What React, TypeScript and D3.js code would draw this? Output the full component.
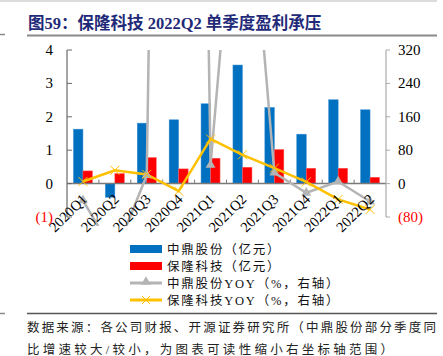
import React from 'react';
import * as d3 from 'd3';

const categories = ['2020Q1', '2020Q2', '2020Q3', '2020Q4', '2021Q1', '2021Q2', '2021Q3', '2021Q4', '2022Q1', '2022Q2'];
const zhongding = [1.63, -0.41, 1.81, 1.91, 2.39, 3.55, 2.28, 1.48, 2.51, 2.21];
const baolong = [0.38, 0.3, 0.78, 0.44, 0.76, 0.49, 1.02, 0.46, 0.46, 0.19];
const zhongdingYoy = [-40, -170, 20, 5000, 45, 930, 26, -22, 5, -43];
const baolongYoy = [5, 32, 22, -18, 107, 69, 37, 4, -38, -62];
const leftTicks = [-1, 0, 1, 2, 3, 4];
const rightTicks = [-80, 0, 80, 160, 240, 320];
const legendLabels = ['中鼎股份（亿元）', '保隆科技（亿元）', '中鼎股份YOY（%，右轴）', '保隆科技YOY（%，右轴）'];

const W = 443;
const H = 356;
const plot = { left: 67, right: 386, top: 50, bottom: 217 };
const BLUE = '#0070C0';
const RED = '#FF0000';
const GRAY = '#B4B4B4';
const YELLOW = '#FFC000';
const SERIF = '"Liberation Serif", "Times New Roman", "Noto Sans CJK SC", serif';
const CJK = '"Liberation Serif", "Noto Sans CJK SC", serif';

function fmt(v: number) {
  return v < 0 ? `(${Math.abs(v)})` : `${v}`;
}

export default function App() {
  const x = d3.scaleBand<string>().domain(categories).range([plot.left, plot.right]).padding(0);
  const yL = d3.scaleLinear().domain([-1, 4]).range([plot.bottom, plot.top]);
  const yR = d3.scaleLinear().domain([-80, 320]).range([plot.bottom, plot.top]);
  const bw = 9.5;
  const cx = (c: string) => (x(c) as number) + x.bandwidth() / 2;

  const line = d3
    .line<number>()
    .x((_, i) => cx(categories[i]))
    .y((d) => yR(d));

  const tri = d3.symbol(d3.symbolTriangle, 42)();

  return (
    <svg width={W} height={H} style={{ position: 'absolute', left: 0, top: 0, background: '#fff' }}>
      <defs>
        <clipPath id="plotclip">
          <rect x={0} y={plot.top} width={W} height={226 - plot.top} />
        </clipPath>
      </defs>
      {/* header */}
      <line x1={0} x2={437} y1={1} y2={1} stroke="#d0d0d0" strokeWidth={1.5} />
      <text x={28} y={29} fontFamily={CJK} fontWeight="bold" fontSize={16.5} fill="#1F2A78">
        图59：保隆科技 2022Q2 单季度盈利承压
      </text>
      <line x1={27} x2={437} y1={35.5} y2={35.5} stroke="#8a8a8a" strokeWidth={2} />
      <line x1={0} x2={5} y1={34.5} y2={34.5} stroke="#8a8a8a" strokeWidth={1.5} />

      {/* bars */}
      {categories.map((c, i) => (
        <g key={c}>
          <rect
            x={cx(c) - bw}
            y={Math.min(yL(zhongding[i]), yL(0))}
            width={bw}
            height={Math.abs(yL(zhongding[i]) - yL(0))}
            fill={BLUE}
            stroke="#3d8fd6"
            strokeWidth={0.5}
          />
          <rect
            x={cx(c)}
            y={Math.min(yL(baolong[i]), yL(0))}
            width={bw}
            height={Math.abs(yL(baolong[i]) - yL(0))}
            fill={RED}
            stroke="#ff6060"
            strokeWidth={0.5}
          />
        </g>
      ))}

      {/* x axis */}
      <line x1={plot.left} x2={plot.right} y1={yL(0)} y2={yL(0)} stroke="#7a7a7a" strokeWidth={1.5} />
      {categories.map((c, i) =>
        i === 0 ? null : (
          <line key={'t' + c} x1={x(c) as number} x2={x(c) as number} y1={yL(0)} y2={yL(0) - 4} stroke="#7a7a7a" strokeWidth={1} />
        )
      )}

      {/* left axis */}
      <line x1={plot.left} x2={plot.left} y1={plot.top} y2={plot.bottom} stroke="#6a6a6a" strokeWidth={1.2} />
      {leftTicks.map((t) => (
        <g key={'l' + t}>
          <line x1={plot.left} x2={plot.left + 5} y1={yL(t)} y2={yL(t)} stroke="#6a6a6a" strokeWidth={1} />
          <text x={53} y={yL(t) + 5} textAnchor="end" fontFamily={SERIF} fontSize={15} fill={t < 0 ? RED : '#000'}>
            {fmt(t)}
          </text>
        </g>
      ))}

      {/* right axis */}
      <line x1={plot.right} x2={plot.right} y1={plot.top} y2={plot.bottom} stroke="#aaaaaa" strokeWidth={1.2} />
      {rightTicks.map((t) => (
        <g key={'r' + t}>
          <line x1={plot.right} x2={plot.right + 4} y1={yR(t)} y2={yR(t)} stroke="#aaaaaa" strokeWidth={1} />
          <text x={398} y={yR(t) + 5} textAnchor="start" fontFamily={SERIF} fontSize={15} fill={t < 0 ? RED : '#000'}>
            {fmt(t)}
          </text>
        </g>
      ))}

      {/* lines */}
      <g clipPath="url(#plotclip)">
        <path d={line(zhongdingYoy) as string} fill="none" stroke={GRAY} strokeWidth={2.5} />
        <path d={line(baolongYoy) as string} fill="none" stroke={YELLOW} strokeWidth={2.5} />
        {zhongdingYoy.map((v, i) => (
          <path key={'gm' + i} d={tri as string} transform={`translate(${cx(categories[i])},${yR(v)})`} fill={GRAY} />
        ))}
        {baolongYoy.map((v, i) => {
          const px = cx(categories[i]);
          const py = yR(v);
          return (
            <g key={'ym' + i} stroke={YELLOW} strokeWidth={1}>
              <line x1={px - 4.5} x2={px + 4.5} y1={py - 4.5} y2={py + 4.5} />
              <line x1={px - 4.5} x2={px + 4.5} y1={py + 4.5} y2={py - 4.5} />
            </g>
          );
        })}
      </g>

      {/* category labels */}
      {categories.map((c) => (
        <text
          key={'c' + c}
          transform={`translate(${cx(c) + 5},${200}) rotate(-45)`}
          textAnchor="end"
          fontFamily={SERIF}
          fontSize={14.5}
          fill="#000"
        >
          {c}
        </text>
      ))}

      {/* legend */}
      {legendLabels.map((lab, i) => {
        const ly = 249 + i * 17;
        return (
          <g key={'lg' + i}>
            {i === 0 && <rect x={130} y={ly - 4} width={32} height={8} fill={BLUE} />}
            {i === 1 && <rect x={130} y={ly - 4} width={32} height={8} fill={RED} />}
            {i === 2 && (
              <g>
                <line x1={130} x2={162} y1={ly} y2={ly} stroke={GRAY} strokeWidth={3} />
                <path d={tri as string} transform={`translate(146,${ly - 1})`} fill={GRAY} />
              </g>
            )}
            {i === 3 && (
              <g>
                <line x1={130} x2={162} y1={ly} y2={ly} stroke={YELLOW} strokeWidth={3} />
                <line x1={142} x2={150} y1={ly - 4} y2={ly + 4} stroke={YELLOW} strokeWidth={1} />
                <line x1={142} x2={150} y1={ly + 4} y2={ly - 4} stroke={YELLOW} strokeWidth={1} />
              </g>
            )}
            <text x={167} y={ly + 4.5} fontFamily={CJK} fontSize={12.5} letterSpacing={1.8} fill="#111">
              {lab}
            </text>
          </g>
        );
      })}

      {/* footer */}
      <line x1={27} x2={437} y1={313.5} y2={313.5} stroke="#555" strokeWidth={1.5} />
      <line x1={0} x2={5} y1={313.5} y2={313.5} stroke="#8a8a8a" strokeWidth={1.5} />
      <text x={27} y={332} fontFamily={CJK} fontSize={12.5} fill="#222" textLength={409} lengthAdjust="spacing">
        数据来源：各公司财报、开源证券研究所（中鼎股份部分季度同
      </text>
      <text x={27} y={354} fontFamily={CJK} fontSize={12.5} fill="#222" textLength={366} lengthAdjust="spacing">
        比增速较大/较小，为图表可读性缩小右坐标轴范围）
      </text>
    </svg>
  );
}
